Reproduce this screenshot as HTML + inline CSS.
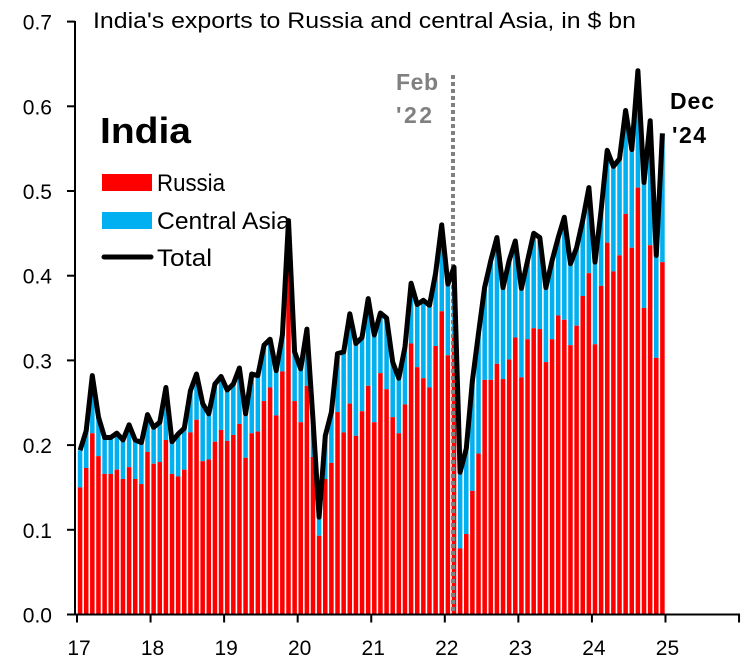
<!DOCTYPE html>
<html><head><meta charset="utf-8"><style>
body{margin:0;background:#fff}
svg{display:block;font-family:"Liberation Sans",sans-serif}
</style></head><body>
<svg id="chart" width="752" height="666" viewBox="0 0 752 666" xmlns="http://www.w3.org/2000/svg">
<text x="93" y="28" font-size="22" textLength="543" lengthAdjust="spacingAndGlyphs">India's exports to Russia and central Asia, in $ bn</text>
<g id="bars"></g>
<line x1="453" y1="75" x2="453" y2="614" stroke="#808080" stroke-width="4" stroke-dasharray="4,3"/>
<text font-size="23" font-weight="bold" fill="#808080"><tspan x="396" y="90" textLength="42">Feb</tspan><tspan x="396" y="123" textLength="36">'22</tspan></text>
<g id="line"></g>
<text font-size="23" font-weight="bold"><tspan x="670" y="109" textLength="44">Dec</tspan><tspan x="672" y="143" textLength="34">'24</tspan></text>
<g id="axes"></g>
<g>
<text x="100" y="143" font-size="36" font-weight="bold" textLength="91" lengthAdjust="spacingAndGlyphs">India</text>
<rect x="102" y="174" width="50" height="17" fill="#ff0000"/>
<text x="157" y="191" font-size="24" textLength="68" lengthAdjust="spacingAndGlyphs">Russia</text>
<rect x="102" y="212" width="50" height="17" fill="#00b0f0"/>
<text x="157" y="229" font-size="24" textLength="133" lengthAdjust="spacingAndGlyphs">Central Asia</text>
<line x1="104" y1="257" x2="151" y2="257" stroke="#000" stroke-width="5" stroke-linecap="round"/>
<text x="157" y="266" font-size="24" textLength="55" lengthAdjust="spacingAndGlyphs">Total</text>
</g>
</svg>
<script>
const russia = [
0.150,0.173,0.214,0.187,0.166,0.166,0.171,0.160,0.174,0.160,0.154,0.192,
0.178,0.180,0.206,0.166,0.163,0.171,0.215,0.230,0.181,0.183,0.204,0.218,
0.205,0.212,0.225,0.185,0.214,0.216,0.252,0.268,0.235,0.287,0.406,0.252,
0.227,0.270,0.186,0.093,0.160,0.179,0.239,0.215,0.249,0.211,0.240,0.270,
0.227,0.285,0.266,0.233,0.214,0.248,0.320,0.292,0.279,0.268,0.317,0.358,
0.306,0.330,0.078,0.095,0.146,0.190,0.277,0.277,0.296,0.278,0.301,0.327,
0.280,0.325,0.338,0.337,0.298,0.325,0.353,0.348,0.318,0.341,0.376,0.403,
0.319,0.388,0.439,0.405,0.424,0.473,0.433,0.504,0.362,0.436,0.303,0.416];
const total = [
0.194,0.217,0.282,0.233,0.209,0.209,0.214,0.206,0.224,0.206,0.203,0.236,
0.221,0.227,0.268,0.204,0.213,0.220,0.264,0.284,0.249,0.237,0.272,0.281,
0.265,0.272,0.291,0.237,0.284,0.282,0.318,0.325,0.288,0.330,0.465,0.310,
0.290,0.337,0.230,0.115,0.211,0.239,0.308,0.310,0.355,0.320,0.327,0.373,
0.330,0.356,0.350,0.298,0.279,0.316,0.391,0.366,0.371,0.365,0.403,0.460,
0.390,0.410,0.168,0.196,0.276,0.332,0.386,0.418,0.445,0.386,0.418,0.441,
0.385,0.418,0.450,0.445,0.386,0.418,0.445,0.469,0.414,0.433,0.465,0.504,
0.416,0.477,0.548,0.529,0.538,0.595,0.549,0.642,0.510,0.583,0.424,0.568];
const yTicks = ["0.0","0.1","0.2","0.3","0.4","0.5","0.6","0.7"];
const xLabels = ["17","18","19","20","21","22","23","24","25"];

const NS="http://www.w3.org/2000/svg";
const X0=77, MW=6.13, Y0=614.5, PY=847;
const xb=i=>X0+i*MW;
const y=v=>Y0-v*PY;
function mk(t,a,p){const e=document.createElementNS(NS,t);for(const k in a)e.setAttribute(k,a[k]);p.appendChild(e);return e;}
const gb=document.getElementById('bars');
russia.forEach((r,i)=>{
  const x=xb(i)+0.8, w=MW-1.6;
  const ca=mk('rect',{x:x,y:y(total[i]),width:w,height:y(r)-y(total[i]),fill:'#00b0f0'},gb);
  
  
  const ru=mk('rect',{x:x,y:y(r),width:w,height:Y0-y(r),fill:'#ff0000'},gb);
  
  
});
const pts=total.map((v,i)=>(xb(i)+MW/2).toFixed(1)+','+y(v).toFixed(1)).join(' ');
const pl=mk('polyline',{points:pts,fill:'none',stroke:'#000','stroke-width':5,'stroke-linejoin':'round'},document.getElementById('line'));


const ga=document.getElementById('axes');
const ya=mk('line',{x1:75,y1:21,x2:75,y2:Y0+1,stroke:'#000','stroke-width':2},ga);


const xa=mk('line',{x1:74,y1:Y0,x2:740,y2:Y0,stroke:'#000','stroke-width':2},ga);


yTicks.forEach((t,k)=>{
  const v=parseFloat(t);
  mk('line',{x1:67,y1:y(v),x2:75,y2:y(v),stroke:'#000','stroke-width':2},ga);
  const tx=mk('text',{x:52,y:y(v)+8,'font-size':21,'text-anchor':'end'},ga);
  tx.textContent=t;
  
  
});
for(let k=0;k<=9;k++){
  const x=X0+k*12*MW;
  mk('line',{x1:x,y1:Y0,x2:x,y2:Y0+8,stroke:'#000','stroke-width':2},ga);
}
xLabels.forEach((t,k)=>{
  const tx=mk('text',{x:X0+k*12*MW+2,y:655,'font-size':21,'text-anchor':'middle'},ga);
  tx.textContent=t;
  
  
});
</script>
</body></html>
